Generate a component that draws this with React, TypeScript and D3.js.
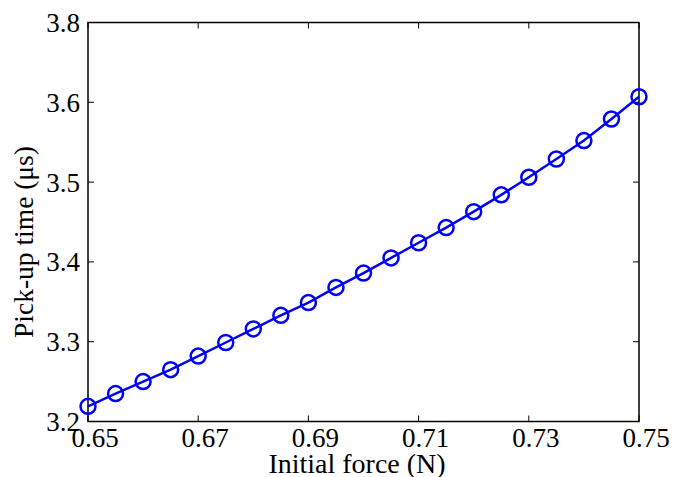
import React from "react";
import * as d3 from "d3";

const forces = [0.65, 0.655, 0.66, 0.665, 0.67, 0.675, 0.68, 0.685, 0.69, 0.695, 0.7, 0.705, 0.71, 0.715, 0.72, 0.725, 0.73, 0.735, 0.74, 0.745, 0.75];
const pickupTimes = [3.219, 3.235, 3.25, 3.265, 3.282, 3.299, 3.316, 3.333, 3.349, 3.368, 3.386, 3.405, 3.424, 3.443, 3.463, 3.484, 3.506, 3.529, 3.552, 3.579, 3.607];
const xTicks = [0.65, 0.67, 0.69, 0.71, 0.73, 0.75];
const xTickLabels = ["0.65", "0.67", "0.69", "0.71", "0.73", "0.75"];
const yTicks = [3.2, 3.3, 3.4, 3.5, 3.6, 3.7];
const yTickLabels = ["3.2", "3.3", "3.4", "3.5", "3.6", "3.8"];

const W = 676, H = 477;
const L = 88, R = 639, T = 22.5, B = 421.5;
const FONT = "'Liberation Serif', 'DejaVu Serif', serif";

export default function App() {
  const x = d3.scaleLinear().domain([0.65, 0.75]).range([L, R]);
  const y = d3.scaleLinear().domain([3.2, 3.7]).range([B, T]);
  const pts = forces.map((f, i) => [f, pickupTimes[i]] as [number, number]);
  const line = d3.line<[number, number]>().x(d => x(d[0])).y(d => y(d[1]))(pts) || "";
  const tl = 6;
  return (
    <svg width={W} height={H} style={{ position: "absolute", left: 0, top: 0, background: "#fff" }}>
      <rect x={0} y={0} width={W} height={H} fill="#fff" />
      {xTicks.map(t => (
        <g key={"x" + t}>
          <line x1={x(t)} x2={x(t)} y1={B} y2={B - tl} stroke="#000" strokeWidth={1} />
          <line x1={x(t)} x2={x(t)} y1={T} y2={T + tl} stroke="#000" strokeWidth={1} />
        </g>
      ))}
      {yTicks.map(t => (
        <g key={"y" + t}>
          <line x1={L} x2={L + tl} y1={y(t)} y2={y(t)} stroke="#000" strokeWidth={1} />
          <line x1={R} x2={R - tl} y1={y(t)} y2={y(t)} stroke="#000" strokeWidth={1} />
        </g>
      ))}
      <rect x={L} y={T} width={R - L} height={B - T} fill="none" stroke="#000" strokeWidth={1.5} />
      <path d={line} fill="none" stroke="#0000ff" strokeWidth={2.5} />
      {pts.map((p, i) => (
        <circle key={i} cx={x(p[0])} cy={y(p[1])} r={7.5} fill="none" stroke="#0000ff" strokeWidth={2.5} />
      ))}
      {xTicks.map((t, i) => (
        <text key={"xl" + t} x={x(t) + 7} y={446.5} textAnchor="middle" fontFamily={FONT} fontSize={27} fill="#000">
          {xTickLabels[i]}
        </text>
      ))}
      {yTicks.map((t, i) => (
        <text key={"yl" + t} x={80} y={y(t)} dy="0.35em" textAnchor="end" fontFamily={FONT} fontSize={27} fill="#000">
          {yTickLabels[i]}
        </text>
      ))}
      <text x={357} y={473} textAnchor="middle" fontFamily={FONT} fontSize={28} fill="#000">Initial force (N)</text>
      <text transform="translate(33,242) rotate(-90)" textAnchor="middle" fontFamily={FONT} fontSize={27.5} fill="#000">Pick-up time (μs)</text>
    </svg>
  );
}
